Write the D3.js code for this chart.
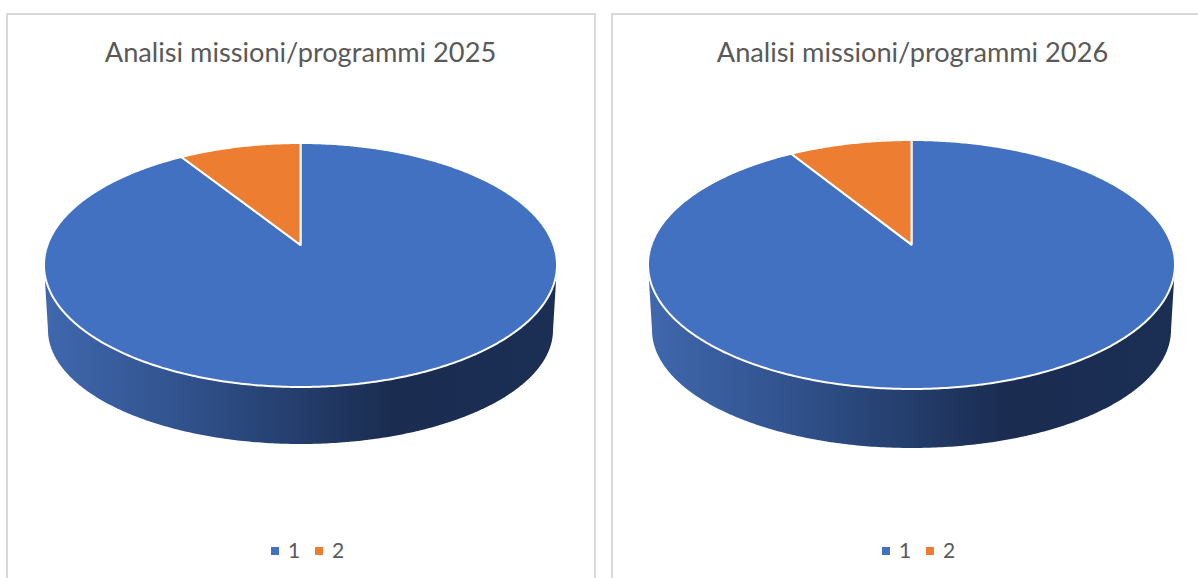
<!DOCTYPE html>
<html>
<head>
<meta charset="utf-8">
<script src="https://cdn.jsdelivr.net/npm/d3@7"></script>
<style>
	html, body { margin: 0; padding: 0; background: #fff; overflow: hidden; }
	text { font-family: Lato, "Open Sans", sans-serif; fill: #595959; }
</style>
</head>
<body>
<div id="chart"></div>
<script>
const categories = ['1', '2'];
const colors = ['#4371c2', '#ed7d31'];
const titles = ['Analisi missioni/programmi 2025', 'Analisi missioni/programmi 2026'];
const values2025 = [91, 9];
const values2026 = [91.2, 8.8];

const width = 1198;
const height = 578;

// layout of each panel
const panels = [
	{
		title: titles[0], values: values2025, frameX: [7, 595], titleX: 300.5, legendX: 271,
		top: { left: 44, right: 557, top: 143, bottom: 387 },
		base: { left: 48, right: 553, top: 216, bottom: 444 },
		apex: 0.418
	},
	{
		title: titles[1], values: values2026, frameX: [612, 1230], titleX: 912.5, legendX: 882,
		top: { left: 648, right: 1175, top: 140, bottom: 389 },
		base: { left: 652, right: 1171, top: 212, bottom: 448 },
		apex: 0.42
	}
];

const svg = d3.select('#chart')
	.append('svg')
		.attr('width', width)
		.attr('height', height)
		.style('display', 'block');

const pie = d3.pie().sort(null).value(d => d);

// disc seen in perspective: a = angle clockwise from 12 o'clock
function discProjection(box, apex) {
	const k = 2 * apex - 1; // perspective factor, negative when the far side is compressed
	const stretch = 1 / Math.sqrt(1 - k * k);
	const xScale = d3.scaleLinear().domain([-1, 1]).range([box.left, box.right]);
	const yScale = d3.scaleLinear().domain([0, 1]).range([box.top, box.bottom]);
	return function(a) {
		const x = Math.sin(a);
		const t = -Math.cos(a);
		const w = 1 + k * t;
		return [xScale(x / w / stretch), yScale(apex * (t + 1) / w)];
	};
}

function drawPanel(p, i) {

	const g = svg.append('g').attr('class', 'panel');

	g.append('rect')
		.attr('x', p.frameX[0])
		.attr('y', 14)
		.attr('width', p.frameX[1] - p.frameX[0])
		.attr('height', height)
		.attr('fill', '#fff')
		.attr('stroke', '#d9d9d9')
		.attr('stroke-width', 2);

	g.append('text')
		.attr('x', p.titleX)
		.attr('y', 62)
		.attr('text-anchor', 'middle')
		.style('font-size', '27.2px')
		.text(p.title);

	const topDisc = discProjection(p.top, p.apex);
	const baseDisc = discProjection(p.base, p.apex);
	const line = d3.line();

	// widest points of the disc, where the wall starts and stops
	const k = 2 * p.apex - 1;
	const start = Math.acos(k);
	const end = 2 * Math.PI - start;
	const wallAngles = d3.range(start, end, 0.01).concat(end);

	const gradient = svg.append('defs')
		.append('linearGradient')
			.attr('id', `wall${i}`)
			.attr('x1', '0%')
			.attr('x2', '100%');
	gradient.selectAll('stop')
		.data([[0, '#4068ae'], [0.35, '#2c4b82'], [0.68, '#1a2c50'], [1, '#1b2e54']])
		.enter()
		.append('stop')
			.attr('offset', d => d[0])
			.attr('stop-color', d => d[1]);

	const wall = wallAngles.map(topDisc)
		.concat(wallAngles.slice().reverse().map(baseDisc));

	g.append('path')
		.attr('d', line(wall) + 'Z')
		.attr('fill', `url(#wall${i})`);

	const cx = topDisc(0)[0];
	const apexY = d3.scaleLinear().domain([0, 1]).range([p.top.top, p.top.bottom])(p.apex);

	g.selectAll('path.slice')
		.data(pie(p.values))
		.enter()
		.append('path')
			.attr('class', 'slice')
			.attr('d', function(d) {
				const steps = d3.range(d.startAngle, d.endAngle, 0.01).concat(d.endAngle);
				return line([[cx, apexY]].concat(steps.map(topDisc))) + 'Z';
			})
			.attr('fill', (d, j) => colors[j])
			.attr('stroke', '#fff')
			.attr('stroke-width', 2)
			.attr('stroke-linejoin', 'round');

	const legend = g.selectAll('g.legend')
		.data(categories)
		.enter()
		.append('g')
			.attr('class', 'legend')
			.attr('transform', (d, j) => `translate(${p.legendX + j * 44}, 0)`);

	legend.append('rect')
		.attr('y', 547)
		.attr('width', 8)
		.attr('height', 8)
		.attr('fill', (d, j) => colors[j]);

	legend.append('text')
		.attr('x', 17)
		.attr('y', 558)
		.style('font-size', '21px')
		.text(d => d);

}

panels.forEach(drawPanel);
</script>
</body>
</html>
